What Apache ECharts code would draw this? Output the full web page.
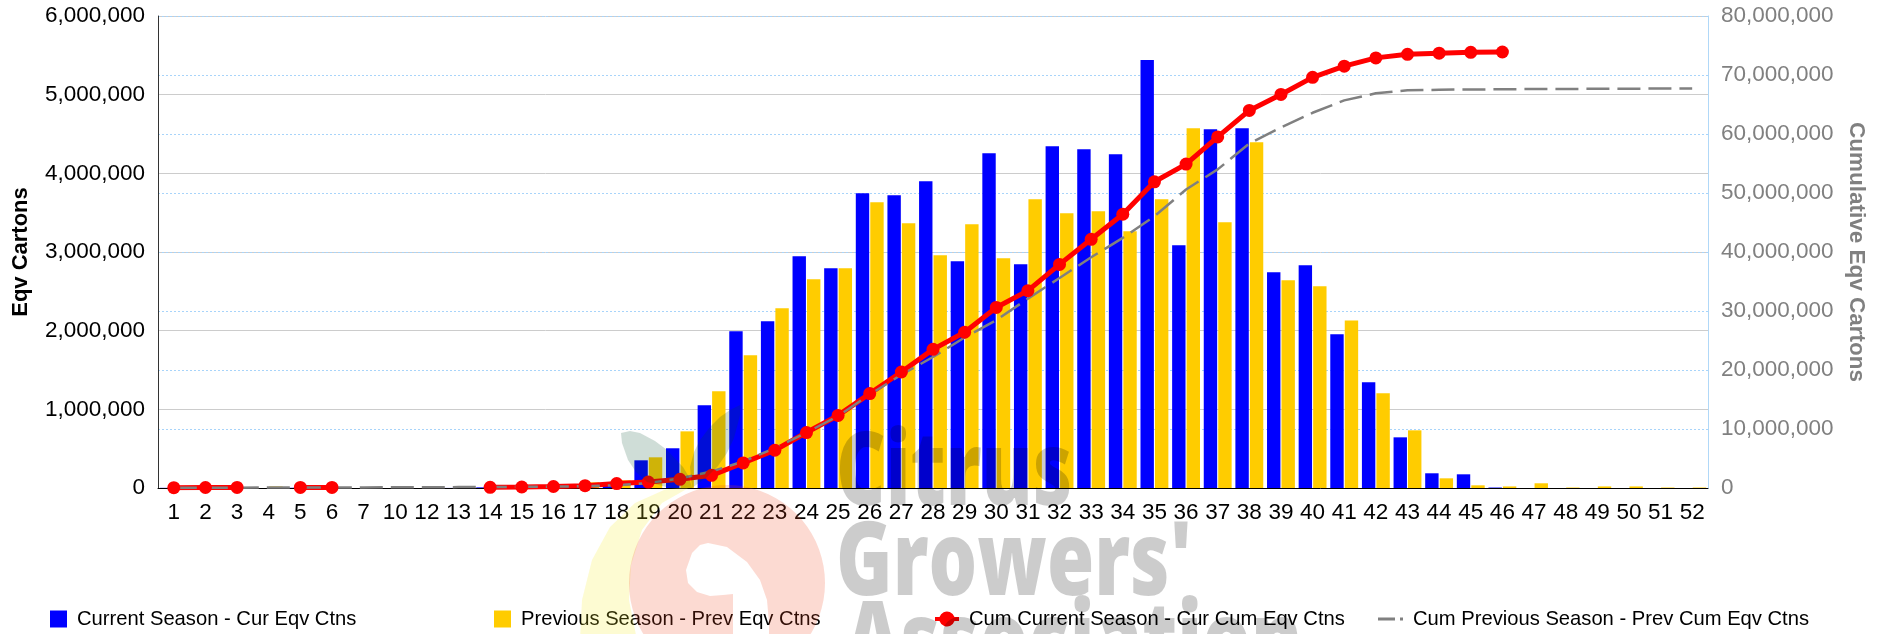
<!DOCTYPE html>
<html>
<head>
<meta charset="utf-8">
<title>Eqv Cartons</title>
<style>
html, body { margin: 0; padding: 0; background: #fff; }
#main { width: 1885px; height: 634px; }
</style>
<script src="https://cdn.jsdelivr.net/npm/echarts@6/dist/echarts.min.js"></script>
</head>
<body>
<div id="main"></div>
<script>
// week numbers, 8, 9 and 11 are not in the report
var weeks = ['1','2','3','4','5','6','7','10','12','13','14','15','16','17','18','19','20','21','22','23','24','25','26','27','28','29','30','31','32','33','34','35','36','37','38','39','40','41','42','43','44','45','46','47','48','49','50','51','52'];

var curEqv = [2000,2000,1000,0,3000,2000,0,0,0,1000,8000,5000,10000,47000,60000,352000,505000,1051000,1992000,2119000,2945000,2793000,3746000,3720000,3898000,2882000,4255000,2843000,4343000,4305000,4241000,5440000,3085000,4560000,4572000,2742000,2831000,1954000,1344000,644000,187000,174000,6000,0,0,0,0,0,0];

var prevEqv = [2000,2000,2000,20000,5000,3000,3000,3000,4000,3000,4000,5000,40000,72000,98000,390000,720000,1229000,1687000,2284000,2653000,2793000,3632000,3365000,2958000,3352000,2920000,3670000,3492000,3517000,3263000,3670000,4572000,3377000,4394000,2640000,2564000,2130000,1204000,733000,123000,34000,20000,60000,6000,20000,20000,6000,6000];

var curCum = [50000,80000,100000,null,100000,100000,null,null,null,null,120000,170000,250000,400000,750000,1000000,1470000,2150000,4250000,6400000,9400000,12300000,16000000,19660000,23500000,26400000,30600000,33450000,37900000,42150000,46400000,51900000,54900000,59500000,64000000,66700000,69600000,71500000,72900000,73500000,73700000,73850000,73900000,null,null,null,null,null,null];

var prevCum = [30000,40000,50000,70000,80000,90000,100000,110000,120000,150000,180000,200000,240000,300000,450000,850000,1600000,2800000,4500000,6750000,9400000,12200000,15850000,19200000,22200000,25500000,28450000,32100000,35600000,39100000,42400000,46050000,50600000,54000000,58400000,61100000,63600000,65700000,66900000,67400000,67500000,67550000,67570000,67630000,67640000,67660000,67680000,67700000,67720000];

var fontName = '"Liberation Sans", Arial, sans-serif';

function fmt(v) {
	return echarts.format.addCommas(v);
}

function legendAt(left, name, width, icon) {
	return {
		left: left,
		top: 609,
		orient: 'horizontal',
		padding: 0,
		itemWidth: width,
		itemHeight: 17,
		selectedMode: false,
		icon: icon,
		data: [name],
		textStyle: {
			fontFamily: fontName,
			fontSize: 20.2,
			color: '#000',
			padding: [0, 0, 0, 5]
		}
	};
}

// red part of the logo: the circle, then back along the white notch that runs off the page
var logoRed = [[733,640]];
for (var a = 145; a <= 395; a += 5) {
	logoRed.push([727 + 98 * Math.cos(a * Math.PI / 180), 583 + 98 * Math.sin(a * Math.PI / 180)]);
}
logoRed = logoRed.concat([[769,640],[769,623],[767,600],[760,580],[747,562],[727,547],[708,543],[700,545],[692,553],[686,570],[688,583],[697,592],[710,596],[723,595],[733,594]]);

function logoText(text, x, y) {
	return {
		type: 'text', z: 91, silent: true, x: x, y: y, scaleX: 0.75,
		style: { text: text, fontFamily: '"Open Sans"', fontWeight: 800, fontSize: 102, fill: 'rgba(0,0,0,0.2)', verticalAlign: 'middle' }
	};
}

var watermark = [
	{ type: 'polygon', z: 90, silent: true, shape: { points: [[580,640],[582,600],[592,560],[610,527],[635,503],[664,490],[692,486],[662,503],[642,530],[631,565],[629,600],[637,640]] }, style: { fill: 'rgba(245,235,30,0.2)' } },
	{ type: 'polygon', z: 90, silent: true, shape: { points: logoRed }, style: { fill: 'rgba(240,70,30,0.2)' } },
	{ type: 'polygon', z: 90, silent: true, shape: { points: [[621,433],[630,431],[640,433],[655,441],[667,450],[683,467],[689,477],[692,488],[670,488],[647,482],[636,472],[628,460],[622,443]] }, style: { fill: 'rgba(0,75,45,0.19)' } },
	{ type: 'polygon', z: 90, silent: true, shape: { points: [[692,488],[690,467],[694,452],[700,440],[710,427],[720,417],[730,410],[740,405],[740,415],[738,423],[734,438],[727,453],[718,466],[707,477]] }, style: { fill: 'rgba(0,75,45,0.19)' } },
	logoText('Citrus', 836, 476),
	logoText("Growers'", 836, 566),
	logoText('Association', 845, 646)
];

var myChart = echarts.init(document.getElementById('main'), null, { renderer: 'canvas' });

var option = {
	animation: false,
	backgroundColor: '#fff',
	graphic: watermark,
	legend: [
		legendAt(50, 'Current Season - Cur Eqv Ctns', 17, 'rect'),
		legendAt(494, 'Previous Season - Prev Eqv Ctns', 17, 'rect'),
		legendAt(935, 'Cum Current Season - Cur Cum Eqv Ctns', 24, 'path://M0,6.5H4.5A8,8.5 0 0 1 19.5,6.5H24V10.5H19.5A8,8.5 0 0 1 4.5,10.5H0Z'),
		legendAt(1378, 'Cum Previous Season - Prev Cum Eqv Ctns', 25, 'path://M0,7H17V10H0ZM22,7H25V10H22Z')
	],
	grid: { left: 158, right: 177, top: 16, bottom: 146, containLabel: false, outerBoundsMode: 'none' },
	xAxis: {
		type: 'category',
		data: weeks,
		axisTick: { show: false },
		axisLine: { lineStyle: { color: '#000', width: 1 } },
		axisLabel: { interval: 0, hideOverlap: false, margin: 13, fontFamily: fontName, fontSize: 22.5, color: '#000' }
	},
	yAxis: [{
		type: 'value',
		min: 0,
		max: 6000000,
		interval: 1000000,
		name: 'Eqv Cartons',
		nameLocation: 'middle',
		nameRotate: 90,
		nameGap: 126,
		nameTextStyle: { fontFamily: fontName, fontSize: 22, fontWeight: 'bold', color: '#000' },
		axisLine: { show: true, lineStyle: { color: '#333' } },
		axisTick: { show: false },
		axisLabel: { margin: 13, fontFamily: fontName, fontSize: 22.5, color: '#000', formatter: fmt, padding: [8, 0, 0, 0] },
		splitLine: { lineStyle: { color: '#cccccc', width: 1 } }
	}, {
		type: 'value',
		min: 0,
		max: 80000000,
		interval: 10000000,
		name: 'Cumulative Eqv Cartons',
		nameLocation: 'middle',
		nameRotate: -90,
		nameGap: 133,
		nameTextStyle: { fontFamily: fontName, fontSize: 22.5, fontWeight: 'bold', color: '#808080' },
		axisLine: { show: true, lineStyle: { color: '#b0d8f8' } },
		axisTick: { show: false },
		axisLabel: { margin: 13, fontFamily: fontName, fontSize: 22.5, color: '#808080', formatter: fmt, padding: [8, 0, 0, 0] },
		splitLine: { show: true, lineStyle: { color: '#a8d4fa', type: [2, 2], width: 1 } }
	}],
	series: [{
		name: 'Current Season - Cur Eqv Ctns',
		type: 'bar',
		data: curEqv,
		barWidth: 13.4,
		barGap: '8%',
		itemStyle: { color: '#0000ff' }
	}, {
		name: 'Previous Season - Prev Eqv Ctns',
		type: 'bar',
		data: prevEqv,
		barWidth: 13.4,
		itemStyle: { color: '#ffcc00' }
	}, {
		name: 'Cum Current Season - Cur Cum Eqv Ctns',
		type: 'line',
		yAxisIndex: 1,
		data: curCum,
		connectNulls: false,
		symbol: 'circle',
		symbolSize: 13,
		showAllSymbol: true,
		itemStyle: { color: '#ff0000' },
		lineStyle: { color: '#ff0000', width: 5 }
	}, {
		name: 'Cum Previous Season - Prev Cum Eqv Ctns',
		type: 'line',
		yAxisIndex: 1,
		data: prevCum,
		symbol: 'none',
		itemStyle: { color: '#808080' },
		lineStyle: { color: '#808080', width: 2.5, type: [23, 8] }
	}]
};

myChart.setOption(option);
</script>
</body>
</html>
